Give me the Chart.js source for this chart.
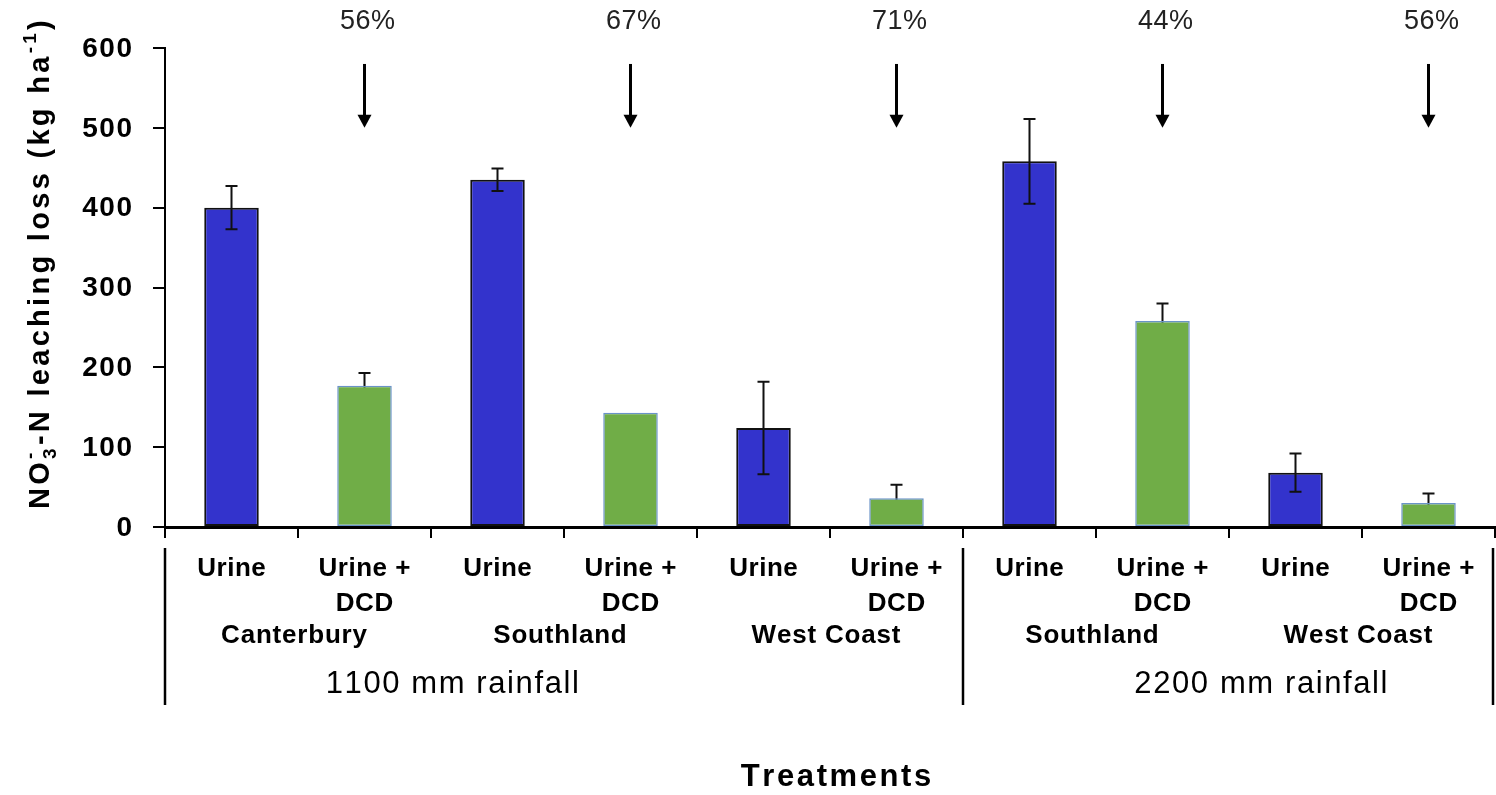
<!DOCTYPE html>
<html>
<head>
<meta charset="utf-8">
<script src="https://cdn.jsdelivr.net/npm/chart.js@4.4.1/dist/chart.umd.min.js"></script>
<style>
  html, body { margin: 0; padding: 0; background: #fff; }
  #wrap { width: 1496px; height: 795px; position: relative; }
</style>
</head>
<body>
<div id="wrap"><canvas id="grafico"></canvas></div>
<script>
// categorias (uma linha por item do array)
const categorias = [
  ["Urine"], ["Urine +", "DCD"],
  ["Urine"], ["Urine +", "DCD"],
  ["Urine"], ["Urine +", "DCD"],
  ["Urine"], ["Urine +", "DCD"],
  ["Urine"], ["Urine +", "DCD"]
];
const regioes = ["Canterbury", "Southland", "West Coast", "Southland", "West Coast"];
const chuvas = ["1100 mm rainfall", "2200 mm rainfall"];
const chuvasCategorias = [6, 4]; // quantas categorias cada grupo de chuva cobre

const urinaValores = [400, 435, 124, 458, 68];
const urinaErros = [27, 14, 58, 53, 24];
const dcdValores = [177, 143, 36, 258, 30];
const dcdErros = [16, 0, 17, 22, 12];
const reducoes = ["56%", "67%", "71%", "44%", "56%"];

const yTicks = [0, 100, 200, 300, 400, 500, 600];

const FONTE = '"Liberation Sans", Arial, sans-serif';

// serie completa com null nas posicoes da outra serie
const serieUrina = categorias.map((_, i) => (i % 2 === 0 ? urinaValores[i / 2] : null));
const serieDcd = categorias.map((_, i) => (i % 2 === 1 ? dcdValores[(i - 1) / 2] : null));

function textoEspacado(ctx, texto, x, y, espaco, align) {
  const chars = [...texto];
  const larguras = chars.map(c => ctx.measureText(c).width);
  const total = larguras.reduce((s, w) => s + w, 0) + espaco * (chars.length - 1);
  let cx = align === "center" ? x - total / 2 : align === "right" ? x - total : x;
  ctx.textAlign = "left";
  chars.forEach((c, i) => {
    ctx.fillText(c, cx, y);
    cx += larguras[i] + espaco;
  });
  return total;
}

function desenharErros(chart, dsIndex, erros, soCima) {
  const ctx = chart.ctx;
  const y = chart.scales.y;
  const meta = chart.getDatasetMeta(dsIndex);
  ctx.save();
  ctx.strokeStyle = "#111";
  ctx.lineWidth = 2;
  let k = 0;
  meta.data.forEach((bar, i) => {
    const v = chart.data.datasets[dsIndex].data[i];
    if (v === null) return;
    const e = erros[k++];
    if (!e) return;
    const x = bar.x;
    const yTop = y.getPixelForValue(v + e);
    const yBot = soCima ? y.getPixelForValue(v) : y.getPixelForValue(v - e);
    ctx.beginPath();
    ctx.moveTo(x, yTop); ctx.lineTo(x, yBot);
    ctx.moveTo(x - 6, yTop); ctx.lineTo(x + 6, yTop);
    if (!soCima) { ctx.moveTo(x - 6, yBot); ctx.lineTo(x + 6, yBot); }
    ctx.stroke();
  });
  ctx.restore();
}

const pluginErros = {
  id: "erros",
  beforeDatasetDraw(chart, args) {
    // barras verdes escondem a parte de baixo do erro
    if (args.index === 1) desenharErros(chart, 1, dcdErros, false);
  },
  afterDatasetDraw(chart, args) {
    if (args.index === 0) desenharErros(chart, 0, urinaErros, false);
  }
};

const pluginTextos = {
  id: "textos",
  afterDraw(chart) {
    const ctx = chart.ctx;
    const x = chart.scales.x;
    const y = chart.scales.y;
    const area = chart.chartArea;
    const larguraCat = (area.right - area.left) / categorias.length;
    ctx.save();
    ctx.fillStyle = "#000";
    ctx.textBaseline = "middle";

    // rotulos do eixo y
    ctx.font = "bold 28px " + FONTE;
    yTicks.forEach(t => textoEspacado(ctx, String(t), 132, y.getPixelForValue(t) + 1, 1.5, "right"));

    // rotulos das categorias
    ctx.font = "bold 26px " + FONTE;
    categorias.forEach((linhas, i) => {
      const cx = x.getPixelForValue(i);
      linhas.forEach((l, j) => textoEspacado(ctx, l, cx, 569 + j * 35, 0.5, "center"));
    });

    // regioes (cada uma cobre duas categorias)
    regioes.forEach((r, i) => {
      const cx = area.left + larguraCat * (2 * i + 1);
      textoEspacado(ctx, r, cx - 4, 636, 0.8, "center");
    });

    // grupos de chuva + linhas separadoras
    ctx.font = "31px " + FONTE;
    const ancoras = [1.66, 7.74];
    let inicio = 0;
    ctx.strokeStyle = "#000";
    ctx.lineWidth = 2.5;
    chuvas.forEach((c, g) => {
      const xs = area.left + larguraCat * inicio;
      ctx.beginPath(); ctx.moveTo(xs, 548); ctx.lineTo(xs, 705); ctx.stroke();
      textoEspacado(ctx, c, x.getPixelForValue(ancoras[g]), 684, 1.6, "center");
      inicio += chuvasCategorias[g];
    });
    const xf = area.left + larguraCat * inicio - 2;
    ctx.beginPath(); ctx.moveTo(xf, 548); ctx.lineTo(xf, 705); ctx.stroke();

    // titulo eixo x
    ctx.font = "bold 31px " + FONTE;
    textoEspacado(ctx, "Treatments", (area.left + area.right) / 2 + 6, 777, 2.6, "center");

    // reducoes e setas
    ctx.font = "27px " + FONTE;
    reducoes.forEach((p, i) => {
      const cx = x.getPixelForValue(2 * i + 1);
      ctx.fillStyle = "#222";
      textoEspacado(ctx, p, cx + 3, 22, 0.5, "center");
      const y0 = y.getPixelForValue(580);
      const y1 = y.getPixelForValue(500);
      ctx.strokeStyle = "#000";
      ctx.fillStyle = "#000";
      ctx.lineWidth = 3;
      ctx.beginPath(); ctx.moveTo(cx, y0); ctx.lineTo(cx, y1 - 10); ctx.stroke();
      ctx.beginPath();
      ctx.moveTo(cx - 7, y1 - 13); ctx.lineTo(cx + 7, y1 - 13); ctx.lineTo(cx, y1); ctx.closePath();
      ctx.fill();
    });

    // titulo eixo y com subscrito/sobrescrito
    ctx.fillStyle = "#000";
    ctx.translate(49, 263);
    ctx.rotate(-Math.PI / 2);
    ctx.textBaseline = "alphabetic";
    const partes = [
      { t: "NO" },
      { sub: "3", sup: "-" },
      { t: "-N leaching loss (kg ha" },
      { sup: "-1" },
      { t: ")" }
    ];
    const esp = 3.3;
    const fonteN = "bold 29px " + FONTE;
    const fonteP = "bold 19px " + FONTE;
    const medir = (txt, f) => {
      ctx.font = f;
      return [...txt].reduce((s, c) => s + ctx.measureText(c).width + esp, 0);
    };
    const larg = partes.reduce((s, p) => {
      if (p.t) return s + medir(p.t, fonteN);
      return s + Math.max(p.sub ? medir(p.sub, fonteP) : 0, p.sup ? medir(p.sup, fonteP) : 0);
    }, 0);
    let px = -larg / 2;
    partes.forEach(p => {
      if (p.t) {
        ctx.font = fonteN;
        px += textoEspacado(ctx, p.t, px, 0, esp, "left") + esp;
      } else {
        ctx.font = fonteP;
        let w = 0;
        if (p.sub) w = Math.max(w, textoEspacado(ctx, p.sub, px, 7, esp, "left"));
        if (p.sup) w = Math.max(w, textoEspacado(ctx, p.sup, px, -13, esp, "left"));
        px += w + esp;
      }
    });
    ctx.restore();
  }
};

new Chart(document.getElementById("grafico"), {
  type: "bar",
  data: {
    labels: categorias,
    datasets: [
      {
        label: "Urine",
        data: serieUrina,
        backgroundColor: "#3333CC",
        borderColor: "#111",
        borderWidth: 2,
        borderSkipped: false,
        skipNull: true
      },
      {
        label: "Urine + DCD",
        data: serieDcd,
        backgroundColor: "#70AD47",
        borderColor: "#6A93C8",
        borderWidth: 1.5,
        borderSkipped: false,
        skipNull: true
      }
    ]
  },
  options: {
    responsive: true,
    maintainAspectRatio: false,
    animation: false,
    grouped: false,
    barPercentage: 0.41,
    categoryPercentage: 1,
    layout: { padding: { top: 48, right: 1, left: 0, bottom: 0 } },
    plugins: {
      legend: { display: false },
      title: { display: false },
      tooltip: { enabled: false }
    },
    scales: {
      x: {
        offset: true,
        grid: { display: true, drawOnChartArea: false, drawTicks: true, tickLength: 11, color: "#000", lineWidth: 2, offset: true },
        border: { display: true, color: "#000", width: 3 },
        ticks: { display: false },
        afterFit: (s) => { s.height = 268; }
      },
      y: {
        min: 0,
        max: 600,
        ticks: { display: false, stepSize: 100 },
        grid: { display: true, drawOnChartArea: false, drawTicks: true, tickLength: 12, color: "#000", lineWidth: 2 },
        border: { display: true, color: "#000", width: 2 },
        afterFit: (s) => { s.width = 165; }
      }
    }
  },
  plugins: [pluginErros, pluginTextos]
});
</script>
</body>
</html>
